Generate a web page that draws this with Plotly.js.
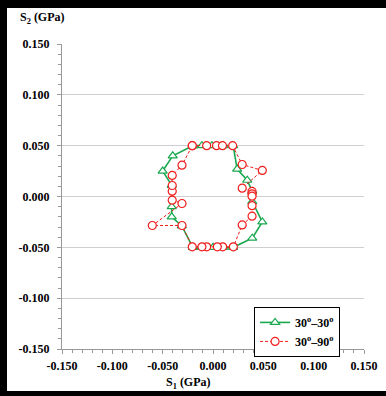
<!DOCTYPE html>
<html><head><meta charset="utf-8">
<script src="https://cdn.plot.ly/plotly-3.0.1.min.js"></script>
<style>
html,body{margin:0;padding:0;background:#fff;}
#wrap{position:relative;width:386px;height:396px;overflow:hidden;}
#chart{position:absolute;left:0;top:0;width:386px;height:396px;}
.bar{position:absolute;background:#000;}
</style></head>
<body>
<div id="wrap">
<div id="chart"></div>
<div class="bar" style="left:0;top:0;width:386px;height:8px;"></div>
<div class="bar" style="left:0;top:0;width:7px;height:396px;"></div>
<div class="bar" style="left:0;top:391px;width:386px;height:5px;"></div>
</div>
<script>
// Series 30°–30°
const s1_30_30 = [-0.020,-0.011,-0.001,0.010,0.020,0.024,0.034,0.039,0.039,0.049,0.039,0.020,0.010,0.000,-0.011,-0.020,-0.031,-0.041,-0.041,-0.041,-0.050,-0.040,-0.020];
const s2_30_30 = [0.050,0.050,0.050,0.050,0.050,0.027,0.016,0.005,-0.005,-0.025,-0.041,-0.050,-0.050,-0.050,-0.050,-0.050,-0.029,-0.020,-0.010,0.011,0.025,0.040,0.050];
// Series 30°–90°
const s1_30_90 = [-0.0206,-0.0063,0.0035,0.0094,0.0195,0.029,0.049,0.029,0.0388,0.0388,0.0388,0.0388,0.0388,0.029,0.0202,0.0096,0.0043,-0.0063,-0.011,-0.0206,-0.0308,-0.0603,-0.0308,-0.0405,-0.0405,-0.0405,-0.0405,-0.0308,-0.0206];
const s2_30_90 = [0.050,0.050,0.050,0.050,0.050,0.0315,0.0256,0.0082,0.005,0.0025,0.0003,-0.009,-0.0194,-0.028,-0.0495,-0.0495,-0.0495,-0.0495,-0.0495,-0.0495,-0.0285,-0.0285,-0.0069,-0.0036,0.0052,0.0108,0.0207,0.0308,0.050];
// Ticks
const tickVals = [-0.15,-0.10,-0.05,0,0.05,0.10,0.15];
const tickLabels = ['-0.150','-0.100','-0.050','0.000','0.050','0.100','0.150'];
const seriesNames = ['30<sup>o</sup>–30<sup>o</sup>','30<sup>o</sup>–90<sup>o</sup>'];

const serif = 'Liberation Serif, Times New Roman, serif';
const tickFont = {family: serif, size: 12, color: '#000', weight: 'bold'};

const traces = [
  {x: s1_30_30, y: s2_30_30, name: seriesNames[0], mode: 'lines+markers', type: 'scatter',
   line: {color: '#1aa84f', width: 1.6},
   marker: {symbol: 'triangle-up', size: 8, color: '#fff', line: {color: '#1aa84f', width: 1.2}}},
  {x: s1_30_90, y: s2_30_90, name: seriesNames[1], mode: 'lines+markers', type: 'scatter',
   line: {color: '#f01c1c', width: 1, dash: '3px,2px'},
   marker: {symbol: 'circle', size: 8, color: '#fff', line: {color: '#f01c1c', width: 1.2}}}
];

const axisCommon = {
  range: [-0.15, 0.15], tickmode: 'array', tickvals: tickVals, ticktext: tickLabels,
  tickfont: tickFont, ticks: 'outside', ticklen: 4, tickcolor: '#999', tickwidth: 1,
  showline: true, linecolor: '#999', linewidth: 1, zeroline: false, fixedrange: true,
  minor: {tick0: 0, dtick: 0.01, ticks: 'outside', ticklen: 3, tickcolor: '#999', showgrid: false}
};

const layout = {
  width: 386, height: 396,
  margin: {l: 62, r: 22, t: 44, b: 47},
  paper_bgcolor: '#fff', plot_bgcolor: '#fff',
  showlegend: true,
  xaxis: Object.assign({}, axisCommon, {showgrid: false, ticklabelstandoff: 2}),
  yaxis: Object.assign({}, axisCommon, {showgrid: true, gridcolor: '#cfcfcf', gridwidth: 1, ticklabelstandoff: 5}),
  legend: {x: 0.636, y: 0.138, xanchor: 'left', yanchor: 'top', bgcolor: '#fff',
    bordercolor: '#000', borderwidth: 1, itemwidth: 30, tracegroupgap: 0,
    font: {family: serif, size: 12, color: '#000', weight: 'bold'}},
  annotations: [
    {text: 'S<sub>2</sub> (GPa)', xref: 'paper', yref: 'paper', x: -0.146, y: 1.085,
     xanchor: 'left', yanchor: 'middle', showarrow: false,
     font: {family: serif, size: 12, color: '#000', weight: 'bold'}},
    {text: 'S<sub>1</sub> (GPa)', xref: 'paper', yref: 'paper', x: 0.42, y: -0.112,
     xanchor: 'center', yanchor: 'middle', showarrow: false,
     font: {family: serif, size: 12, color: '#000', weight: 'bold'}}
  ]
};

Plotly.newPlot('chart', traces, layout, {displayModeBar: false, staticPlot: true});
</script>
</body></html>
